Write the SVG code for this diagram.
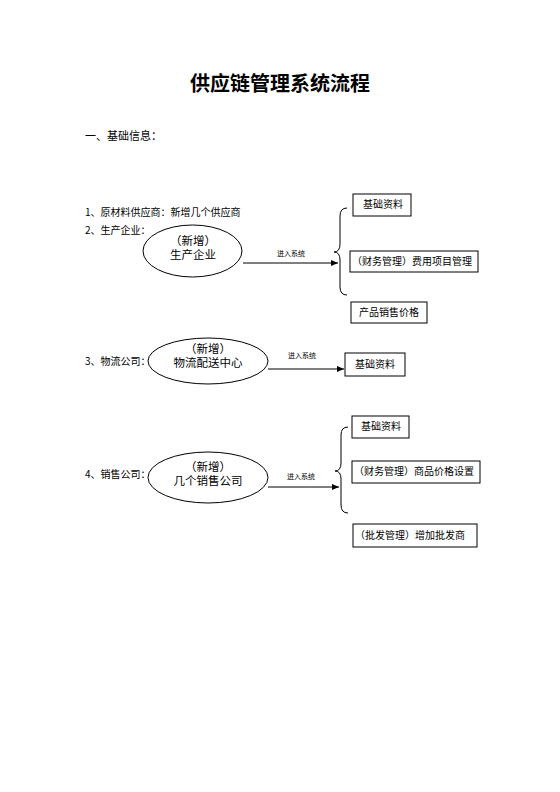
<svg xmlns="http://www.w3.org/2000/svg" width="560" height="792" viewBox="0 0 560 792">
<defs>
<marker id="arr" markerWidth="8" markerHeight="8" refX="7" refY="4" orient="auto" markerUnits="userSpaceOnUse">
<path d="M0,1 L7,4 L0,7 Z" fill="#000"/>
</marker>
<style>
text{font-family:"Noto Sans CJK SC","Noto Sans",sans-serif;fill:#000}
.t{font-size:20px;font-weight:bold}
.h{font-size:11px}
.b{font-size:10px}
.e{font-size:11.5px;font-family:"Liberation Sans","Noto Sans CJK SC",sans-serif}
.s{font-size:7px}
.box{fill:#fff;stroke:#000;stroke-width:1}
.ell{fill:#fff;stroke:#000;stroke-width:1}
.ln{stroke:#000;stroke-width:1;fill:none}
</style>
</defs>
<rect width="560" height="792" fill="#fff"/>
<text class="t" x="280" y="91" text-anchor="middle">供应链管理系统流程</text>
<text class="h" x="85" y="140">一、基础信息：</text>
<text class="b" x="85" y="216">1、原材料供应商：新增几个供应商</text>
<text class="b" x="85" y="234">2、生产企业：</text>
<text class="b" x="85" y="365">3、物流公司：</text>
<text class="b" x="85" y="478">4、销售公司：</text>

<g id="connectors">
<line class="ln" x1="243" y1="263" x2="338" y2="263" marker-end="url(#arr)"/>
<text class="s" x="291" y="256" text-anchor="middle">进入系统</text>
<path class="ln" d="M347,208 Q340,208 340,216 L340,244 Q340,252 334,252 Q340,252 340,260 L340,287 Q340,295 347,295"/>
<line class="ln" x1="268" y1="369" x2="344" y2="369" marker-end="url(#arr)"/>
<text class="s" x="302" y="358" text-anchor="middle">进入系统</text>
<line class="ln" x1="268" y1="487" x2="339" y2="487" marker-end="url(#arr)"/>
<text class="s" x="301" y="479" text-anchor="middle">进入系统</text>
<path class="ln" d="M348,427 Q341,427 341,435 L341,463 Q341,471 335,471 Q341,471 341,479 L341,505 Q341,513 348,513"/>
</g>

<g id="n-prod">
<ellipse class="ell" cx="192.5" cy="251" rx="49.5" ry="26"/>
<text class="e" x="193" y="245" text-anchor="middle">（新增）</text>
<text class="e" x="193" y="259" text-anchor="middle">生产企业</text>
</g>
<g id="n-prod-basic">
<rect class="box" x="353" y="194" width="58" height="22"/>
<text class="b" x="363" y="208">基础资料</text>
</g>
<g id="n-prod-fee">
<rect class="box" x="350" y="251" width="128" height="21"/>
<text class="b" x="352" y="265">（财务管理）费用项目管理</text>
</g>
<g id="n-prod-price">
<rect class="box" x="351" y="302" width="76" height="21"/>
<text class="b" x="359" y="316">产品销售价格</text>
</g>

<g id="n-log">
<ellipse class="ell" cx="208" cy="361" rx="60" ry="23"/>
<text class="e" x="208" y="353" text-anchor="middle">（新增）</text>
<text class="e" x="208" y="367" text-anchor="middle">物流配送中心</text>
</g>
<g id="n-log-basic">
<rect class="box" x="345" y="353" width="60" height="23"/>
<text class="b" x="355" y="368">基础资料</text>
</g>

<g id="n-sales">
<ellipse class="ell" cx="208" cy="477.5" rx="60" ry="25.5"/>
<text class="e" x="208" y="471" text-anchor="middle">（新增）</text>
<text class="e" x="208" y="485" text-anchor="middle">几个销售公司</text>
</g>
<g id="n-sales-basic">
<rect class="box" x="352" y="416" width="57" height="22"/>
<text class="b" x="361" y="430">基础资料</text>
</g>
<g id="n-sales-price">
<rect class="box" x="352" y="461" width="128" height="22"/>
<text class="b" x="354" y="475">（财务管理）商品价格设置</text>
</g>
<g id="n-sales-whole">
<rect class="box" x="353" y="524" width="124" height="23"/>
<text class="b" x="355" y="539">（批发管理）增加批发商</text>
</g>
</svg>
